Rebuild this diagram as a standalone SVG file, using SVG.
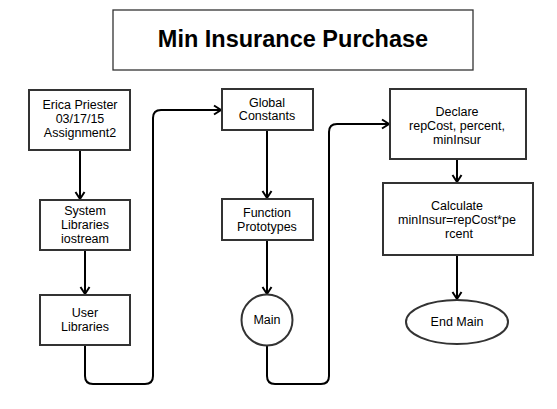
<svg xmlns="http://www.w3.org/2000/svg" width="557" height="409" viewBox="0 0 557 409">
<defs>
<style>
.box{fill:#fff;stroke:#333;stroke-width:2}
.t{font-family:"Liberation Sans",Arial,sans-serif;font-size:12.5px;fill:#000;text-anchor:middle;dominant-baseline:central}
.c{fill:none;stroke:#000;stroke-width:2}
</style>
<marker id="ah" markerUnits="userSpaceOnUse" markerWidth="12" markerHeight="12" refX="9" refY="6" orient="auto">
<path d="M2,1.5 L9,6 L2,10.5" fill="none" stroke="#000" stroke-width="2"/>
</marker>
</defs>
<rect width="557" height="409" fill="#fff"/>
<g id="title">
<rect x="113" y="10" width="360" height="60" fill="#fff" stroke="#333" stroke-width="1.3"/>
<text x="293" y="39" font-family="Liberation Sans,Arial,sans-serif" font-size="23.5" font-weight="bold" text-anchor="middle" dominant-baseline="central">Min Insurance Purchase</text>
</g>
<g id="connectors">
<path class="c" d="M80,150 V199" marker-end="url(#ah)"/>
<path class="c" d="M85,250 V294" marker-end="url(#ah)"/>
<path class="c" d="M85,345 V376 Q85,384 93,384 H145 Q153,384 153,376 V118 Q153,110 161,110 H221" marker-end="url(#ah)"/>
<path class="c" d="M267,130 V198" marker-end="url(#ah)"/>
<path class="c" d="M267,240 V294" marker-end="url(#ah)"/>
<path class="c" d="M267,346 V376 Q267,384 275,384 H321 Q329,384 329,376 V132 Q329,124 337,124 H389" marker-end="url(#ah)"/>
<path class="c" d="M457,159 V182" marker-end="url(#ah)"/>
<path class="c" d="M457,255 V299" marker-end="url(#ah)"/>
</g>
<g id="n1">
<rect class="box" x="29" y="90" width="101" height="60"/>
<text class="t" x="80" y="105">Erica Priester</text>
<text class="t" x="80" y="119">03/17/15</text>
<text class="t" x="80" y="133">Assignment2</text>
</g>
<g id="n2">
<rect class="box" x="40" y="200" width="90" height="50"/>
<text class="t" x="85" y="211">System</text>
<text class="t" x="85" y="225">Libraries</text>
<text class="t" x="85" y="239">iostream</text>
</g>
<g id="n3">
<rect class="box" x="40" y="295" width="90" height="50"/>
<text class="t" x="85" y="313">User</text>
<text class="t" x="85" y="327">Libraries</text>
</g>
<g id="n4">
<rect class="box" x="222" y="89" width="91" height="41"/>
<text class="t" x="267" y="103">Global</text>
<text class="t" x="267" y="116">Constants</text>
</g>
<g id="n5">
<rect class="box" x="222" y="199" width="91" height="41"/>
<text class="t" x="267" y="213">Function</text>
<text class="t" x="267" y="227">Prototypes</text>
</g>
<g id="n6">
<circle class="box" cx="267" cy="320" r="25.5"/>
<text class="t" x="267" y="320">Main</text>
</g>
<g id="n7">
<rect class="box" x="390" y="89" width="136" height="70"/>
<text class="t" x="457" y="112">Declare</text>
<text class="t" x="457" y="126">repCost, percent,</text>
<text class="t" x="457" y="140">minInsur</text>
</g>
<g id="n8">
<rect class="box" x="383" y="183" width="150" height="72"/>
<text class="t" x="457" y="206">Calculate</text>
<text class="t" x="457" y="220">minInsur=repCost*pe</text>
<text class="t" x="459" y="234">rcent</text>
</g>
<g id="n9">
<ellipse class="box" cx="457" cy="322" rx="51" ry="22"/>
<text class="t" x="457" y="322">End Main</text>
</g>
</svg>
